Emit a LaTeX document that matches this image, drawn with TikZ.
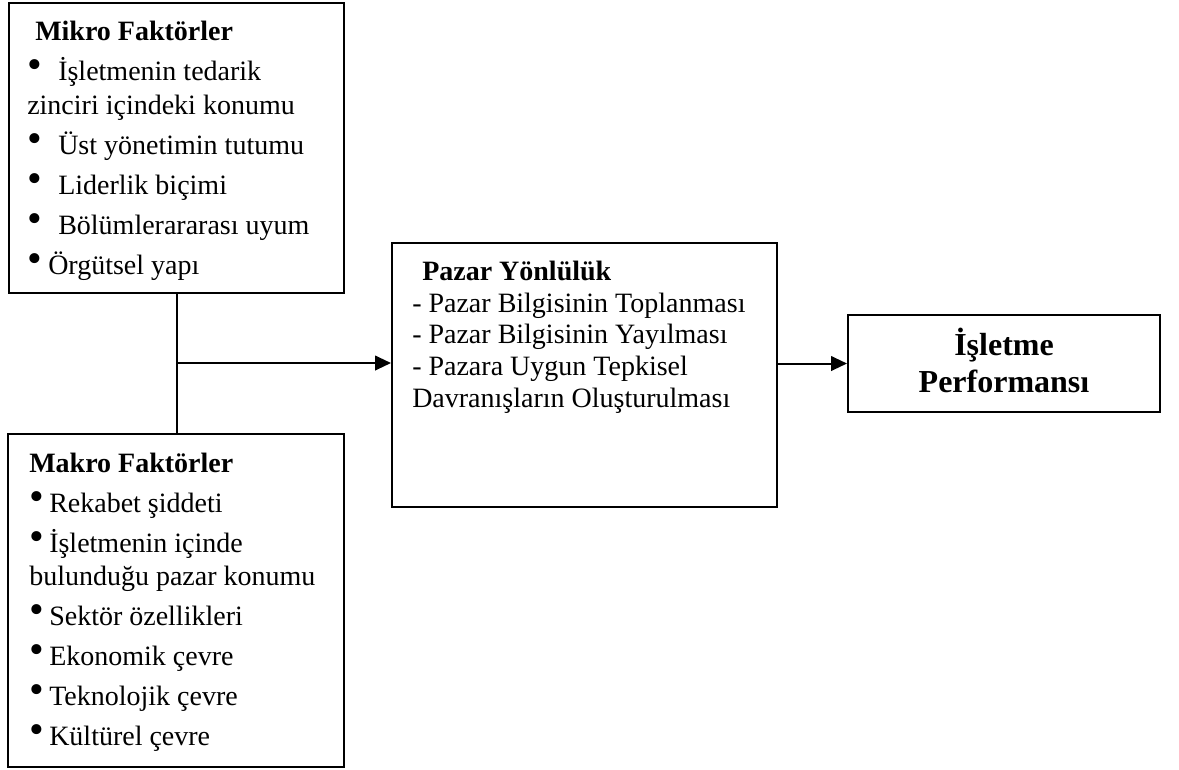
\documentclass[tikz,border=0pt]{standalone}
\usepackage{fontspec}
\setmainfont{Liberation Serif}
\usetikzlibrary{arrows.meta,fit}

% bullet set in a box of fixed width, so the item text starts at a fixed tab
\newcommand{\bul}[1]{\makebox[#1][l]{\raisebox{1.5pt}{\scalebox{1.5}{\textbullet}}}}
% fixes the height of a text block's first line
\newcommand{\firstline}{\rule{0pt}{22pt}}

\begin{document}
\begin{tikzpicture}[x=0.75pt,y=-0.75pt,
  box/.style={draw, line width=1.5pt, inner sep=0pt},
  txt/.style={inner sep=0pt, anchor=north west, align=left,
              font=\fontsize{21}{25}\selectfont},
  link/.style={line width=1.5pt},
  arr/.style={link, -{Triangle[length=12pt,width=11pt]}}
]
\fill[white] (0,0) rectangle (1179,769);
\useasboundingbox (0,0) rectangle (1179,769);

% frames
\node[box, fit={(9,2.5) (344,293)}] (mikro) {};
\node[box, fit={(7.5,434) (344,767)}] (makro) {};
\node[box, fit={(392,243) (777,507)}] (pazar) {};
\node[box, fit={(848,315) (1160,412)}] (perf) {};

% texts
\node[txt] (mikrotxt) at (27,10.67) {\firstline\hspace*{6pt}\textbf{Mikro Faktörler}\\[5.5pt]
\bul{23.25pt}İşletmenin tedarik\\
zinciri içindeki konumu\\[5pt]
\bul{23.25pt}Üst yönetimin tutumu\\[5pt]
\bul{23.25pt}Liderlik biçimi\\[5pt]
\bul{23.25pt}Bölümlerararası uyum\\[5pt]
\bul{15.75pt}Örgütsel yapı};

\node[txt] (makrotxt) at (29,442.67) {\firstline\textbf{Makro Faktörler}\\[5pt]
\bul{15pt}Rekabet şiddeti\\[5pt]
\bul{15pt}İşletmenin içinde\\
bulunduğu pazar konumu\\[5pt]
\bul{15pt}Sektör özellikleri\\[5pt]
\bul{15pt}Ekonomik çevre\\[5pt]
\bul{15pt}Teknolojik çevre\\[5pt]
\bul{15pt}Kültürel çevre};

\node[txt, font=\fontsize{21}{23.8}\selectfont] (pazartxt) at (412,250.67)
{\firstline\hspace*{7.5pt}\textbf{Pazar Yönlülük}\\
- Pazar Bilgisinin Toplanması\\
- Pazar Bilgisinin Yayılması\\
- Pazara Uygun Tepkisel\\
Davranışların Oluşturulması};

\node[inner sep=0pt, anchor=north, align=center,
      font=\bfseries\fontsize{24}{27.75}\selectfont] (perftxt) at (1004,321.67)
{\rule{0pt}{25pt}İşletme\\Performansı};

% connectors
\coordinate (j) at (mikro.south |- 0,363);
\draw[link] (mikro.south) -- (makro.north -| mikro.south);
\draw[arr] (j) -- (j -| pazar.west);
\draw[arr] (perf.west -| pazar.east) -- (perf.west);
\end{tikzpicture}
\end{document}
